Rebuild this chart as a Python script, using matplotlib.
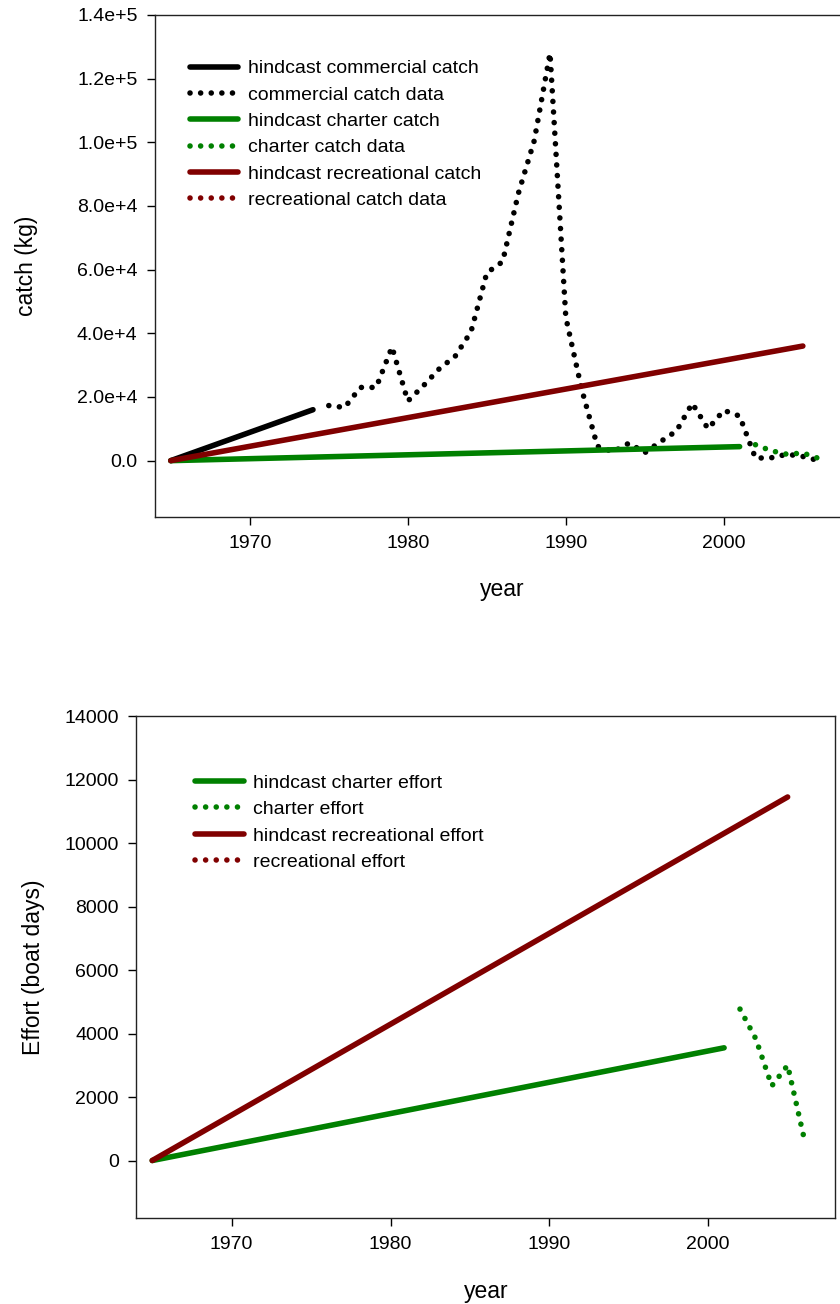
import matplotlib
matplotlib.use("Agg")
import matplotlib.pyplot as plt
from matplotlib.ticker import FuncFormatter, MultipleLocator

plt.rcParams["font.family"] = ["Liberation Sans", "DejaVu Sans"]

# ---- catch (kg) ----
hc_comm_years = [1965, 1974]
hc_comm_catch = [0, 16000]

comm_years = list(range(1975, 2007))
comm_catch = [17300, 16700, 23000, 23000, 35700, 18700, 23600, 28900,
              32800, 40500, 59000, 62500, 84000, 100500, 128000, 45000,
              22500, 4500, 2800, 5500, 2500, 6000, 9300, 18000,
              10000, 15800, 14000, 800, 900, 2000, 1300, 0]

hc_charter_years = [1965, 2001]
hc_charter_catch = [0, 4400]

charter_years = [2002, 2003, 2004, 2005, 2006]
charter_catch = [5000, 3100, 2000, 2400, 700]

hc_rec_years = [1965, 2005]
hc_rec_catch = [0, 36000]

rec_years = []
rec_catch = []

# ---- effort (boat days) ----
hc_charter_eff_years = [1965, 2001]
hc_charter_eff = [0, 3550]

charter_eff_years = [2002, 2003, 2004, 2005, 2006]
charter_eff = [4770, 3830, 2350, 3000, 780]

hc_rec_eff_years = [1965, 2005]
hc_rec_eff = [0, 11450]

rec_eff_years = []
rec_eff = []

GREEN = "#008000"
RED = "#800000"
LW = 4.0
DOT = (0, (0.01, 1.9))


def solid(ax, x, y, c, label):
    ax.plot(x, y, color=c, lw=LW, solid_capstyle="round", label=label)


def dotted(ax, x, y, c, label):
    ax.plot(x, y, color=c, lw=LW, linestyle=DOT, dash_capstyle="round", label=label)


def sci(v, pos):
    if v == 0:
        return "0.0"
    exp = len(str(int(abs(v)))) - 1
    return f"{v / 10 ** exp:.1f}e+{exp}"


def style(ax):
    ax.tick_params(direction="out", length=5.5, width=1, labelsize=14, pad=7.5)
    ax.tick_params(axis="y", pad=7)
    for s in ax.spines.values():
        s.set_linewidth(1)
        s.set_color("#222222")
    ax.xaxis.set_major_locator(MultipleLocator(10))
    ax.set_xlim(1964, 2008)


def add_legend(ax, anchor):
    ax.legend(loc="upper left", bbox_to_anchor=anchor, frameon=False,
              fontsize=14, handlelength=2.5, handletextpad=0.5, labelspacing=0.45,
              borderpad=0, borderaxespad=0)


fig = plt.figure(figsize=(8.4, 13.04), dpi=100)

# top: catch
ax1 = fig.add_axes([0.1845, 0.6033, 0.8277, 0.3852])
solid(ax1, hc_comm_years, hc_comm_catch, "black", "hindcast commercial catch")
dotted(ax1, comm_years, comm_catch, "black", "commercial catch data")
solid(ax1, hc_charter_years, hc_charter_catch, GREEN, "hindcast charter catch")
dotted(ax1, charter_years, charter_catch, GREEN, "charter catch data")
solid(ax1, hc_rec_years, hc_rec_catch, RED, "hindcast recreational catch")
dotted(ax1, rec_years, rec_catch, RED, "recreational catch data")
style(ax1)
ax1.set_ylim(-17800, 140000)
ax1.yaxis.set_major_locator(MultipleLocator(20000))
ax1.yaxis.set_major_formatter(FuncFormatter(sci))
ax1.set_xlabel("year", fontsize=16.5)
ax1.set_ylabel("catch (kg)", fontsize=16.5)
ax1.xaxis.set_label_coords(0.5, -0.121)
ax1.yaxis.set_label_coords(-0.168, 0.5)
add_legend(ax1, (0.05, 0.911))

# bottom: effort
ax2 = fig.add_axes([0.1623, 0.0662, 0.8321, 0.3847])
solid(ax2, hc_charter_eff_years, hc_charter_eff, GREEN, "hindcast charter effort")
dotted(ax2, charter_eff_years, charter_eff, GREEN, "charter effort")
solid(ax2, hc_rec_eff_years, hc_rec_eff, RED, "hindcast recreational effort")
dotted(ax2, rec_eff_years, rec_eff, RED, "recreational effort")
style(ax2)
ax2.set_ylim(-1800, 14000)
ax2.yaxis.set_major_locator(MultipleLocator(2000))
ax2.set_xlabel("year", fontsize=16.5)
ax2.set_ylabel("Effort (boat days)", fontsize=16.5)
ax2.xaxis.set_label_coords(0.5, -0.124)
ax2.yaxis.set_label_coords(-0.13, 0.5)
add_legend(ax2, (0.084, 0.884))

fig.savefig("out.png", dpi=100)
